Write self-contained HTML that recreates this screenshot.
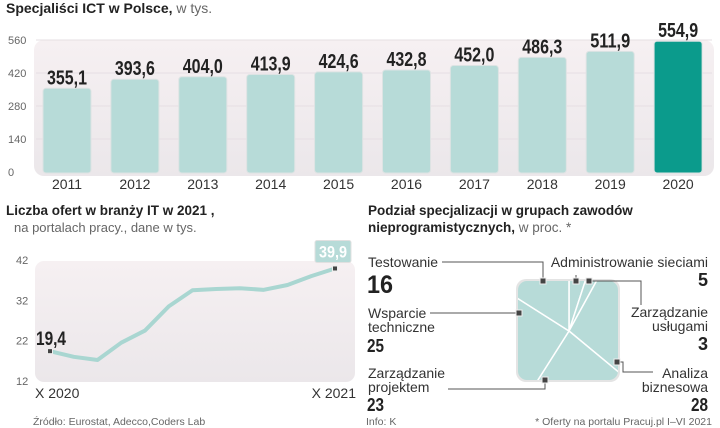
<!DOCTYPE html>
<html><head><meta charset="utf-8"><style>
body{margin:0;background:#fff;width:720px;height:428px;overflow:hidden}
svg{display:block;font-family:"Liberation Sans",sans-serif}
</style></head><body>
<svg id="s" width="720" height="428" viewBox="0 0 720 428">
<defs>
<linearGradient id="pg" x1="0" y1="0" x2="0" y2="1"><stop offset="0" stop-color="#f6f0f2"/><stop offset="1" stop-color="#ebe7ea"/></linearGradient>
<clipPath id="sq"><rect x="518" y="281" width="100" height="99" rx="9"/></clipPath>
</defs>
<text x="6" y="13" font-size="14" fill="#222"><tspan font-weight="bold">Specjaliści ICT w Polsce,</tspan><tspan fill="#666"> w tys.</tspan></text>
<rect x="34" y="40" width="680" height="136" rx="10" fill="url(#pg)"/>
<g id="bars"></g>
<text x="6" y="215" font-size="13.5" font-weight="bold" fill="#222">Liczba ofert w branży IT w 2021 ,</text>
<text x="14" y="232" font-size="13" fill="#666">na portalach pracy., dane w tys.</text>
<rect x="35" y="261" width="320" height="121" rx="9" fill="url(#pg)"/>
<g id="line"></g>
<text x="33" y="425" font-size="10.5" fill="#666">Źródło: Eurostat, Adecco,Coders Lab</text>
<text x="368" y="215" font-size="13.5" font-weight="bold" fill="#222">Podział specjalizacji  w grupach zawodów</text>
<text x="368" y="232" font-size="13.5" fill="#222"><tspan font-weight="bold">nieprogramistycznych,</tspan><tspan fill="#666"> w proc. *</tspan></text>
<rect x="516" y="279" width="104" height="103" rx="10" fill="#e4e4e4"/>
<g id="pie" clip-path="url(#sq)"></g>
<g id="leaders" stroke="#555" stroke-width="1" fill="none">
<polyline points="442,262 543,262 543,281"/><polyline points="576,275 576,281"/><polyline points="589,281 641,281 641,305"/>
<polyline points="430,313 519,313"/><polyline points="617,362 623,362 623,372 653,372"/><polyline points="545,380 545,389 448,389"/>
</g>
<g fill="#444" stroke="#eee" stroke-width="1">
<rect x="540" y="278" width="6" height="6"/><rect x="573" y="278" width="6" height="6"/><rect x="586" y="278" width="6" height="6"/>
<rect x="516" y="310" width="6" height="6"/><rect x="614" y="359" width="6" height="6"/><rect x="542" y="377" width="6" height="6"/>
</g>
<g font-size="14" fill="#333">
<text x="368" y="267">Testowanie</text>
<text x="367" y="293" font-size="25" font-weight="bold" fill="#222" textLength="26" lengthAdjust="spacingAndGlyphs">16</text>
<text x="368" y="318">Wsparcie</text><text x="368" y="332">techniczne</text>
<text x="367" y="352" font-size="18" font-weight="bold" fill="#222" textLength="17" lengthAdjust="spacingAndGlyphs">25</text>
<text x="368" y="378">Zarządzanie</text><text x="368" y="392">projektem</text>
<text x="367" y="411" font-size="18" font-weight="bold" fill="#222" textLength="17" lengthAdjust="spacingAndGlyphs">23</text>
<g text-anchor="end">
<text x="708" y="267">Administrowanie sieciami</text>
<text x="708" y="286" font-size="18" font-weight="bold" fill="#222">5</text>
<text x="708" y="317">Zarządzanie</text><text x="708" y="331">usługami</text>
<text x="708" y="350" font-size="18" font-weight="bold" fill="#222">3</text>
<text x="708" y="378">Analiza</text><text x="708" y="392">biznesowa</text>
<text x="708" y="411" font-size="18" font-weight="bold" fill="#222" textLength="17" lengthAdjust="spacingAndGlyphs">28</text>
</g></g>
<text x="366" y="425" font-size="10.5" fill="#666">Info: K</text>
<text x="712" y="425" font-size="10.5" fill="#666" text-anchor="end">* Oferty na portalu Pracuj.pl I–VI 2021</text>
</svg>
<script>
const years=["2011","2012","2013","2014","2015","2016","2017","2018","2019","2020"];
const specialists=[355.1,393.6,404.0,413.9,424.6,432.8,452.0,486.3,511.9,554.9];
const barTicks=[0,140,280,420,560];
const offers=[19.4,18.0,17.2,21.5,24.5,30.5,34.5,34.8,35.0,34.6,35.8,38.0,39.9];
const lineTicks=[12,22,32,42];
const pieLabels=["Administrowanie sieciami","Zarządzanie usługami","Analiza biznesowa","Zarządzanie projektem","Wsparcie techniczne","Testowanie"];
const pieValues=[5,3,28,23,25,16];
const NS="http://www.w3.org/2000/svg";
function mk(p,t,a,txt){const e=document.createElementNS(NS,t);for(const k in a)e.setAttribute(k,a[k]);if(txt!=null)e.textContent=txt;p.appendChild(e);return e;}
const by=v=>172-v*132/560, bx=i=>67+i*67.9;
const bg=document.getElementById('bars');
barTicks.forEach(t=>{const y=by(t);
 if(t>0){const l=mk(bg,'line',{x1:36,x2:712,y1:y,y2:y,stroke:'#e6dfe3'});}
 const e=mk(bg,'text',{x:8,y:y+4,'font-size':11,fill:'#666'},t);});
specialists.forEach((v,i)=>{const x=bx(i),y=by(v),last=i==specialists.length-1;
 const r=mk(bg,'rect',{x:x-24,y:y,width:48,height:by(0)-y+1,rx:3,fill:last?'#0b9b8c':'#b7dbd8',stroke:'#dde3e3','stroke-width':1});
 
 const t=mk(bg,'text',{x:x-20,y:y-4,'font-size':20,'font-weight':'bold',fill:'#222',textLength:40,lengthAdjust:'spacingAndGlyphs'},v.toFixed(1).replace('.',','));
 
 const yl=mk(bg,'text',{x:x,y:189,'text-anchor':'middle','font-size':14,fill:'#333'},years[i]);
 });
const ly=v=>381-(v-12)*121/30, lx=i=>50+i*(335-50)/(offers.length-1);
const lg=document.getElementById('line');
lineTicks.forEach(t=>{const e=mk(lg,'text',{x:16,y:ly(t)+4,'font-size':11,fill:'#666'},t);});
const pl=mk(lg,'polyline',{points:offers.map((v,i)=>lx(i)+','+ly(v)).join(' '),fill:'none',stroke:'#a9d6d1','stroke-width':4,'stroke-linejoin':'round','stroke-linecap':'round'});

[0,offers.length-1].forEach(i=>{const m=mk(lg,'rect',{x:lx(i)-2.5,y:ly(offers[i])-2.5,width:5,height:5,fill:'#444',stroke:'#eee'});});
const fl=mk(lg,'text',{x:36,y:ly(offers[0])-6,'font-size':19,'font-weight':'bold',fill:'#222',textLength:30,lengthAdjust:'spacingAndGlyphs'},offers[0].toFixed(1).replace('.',','));

const li=offers.length-1;
const lb=mk(lg,'rect',{x:lx(li)-20,y:ly(offers[li])-28,width:36,height:22,rx:2,fill:'#b7dbd8',stroke:'#e0e0e0'});

const lt=mk(lg,'text',{x:lx(li)-16,y:ly(offers[li])-11,'font-size':17,'font-weight':'bold',fill:'#fff',textLength:28,lengthAdjust:'spacingAndGlyphs'},offers[li].toFixed(1).replace('.',','));

const x1=mk(lg,'text',{x:35,y:398,'font-size':14,fill:'#333'},'X 2020');
const x2=mk(lg,'text',{x:356,y:398,'font-size':14,fill:'#333','text-anchor':'end'},'X 2021');
const pg=document.getElementById('pie');const cx=569,cy=331,R=90;
const tot=pieValues.reduce((a,b)=>a+b,0);let a0=0;
pieValues.forEach((v,i)=>{const a1=a0+v/tot*2*Math.PI;
 const p=(a)=>[cx+R*Math.sin(a),cy-R*Math.cos(a)];const [sx,sy]=p(a0),[ex,ey]=p(a1);
 const s=mk(pg,'path',{d:`M${cx},${cy}L${sx},${sy}A${R},${R} 0 ${a1-a0>Math.PI?1:0} 1 ${ex},${ey}Z`,fill:'#b7dbd8',stroke:'#fff','stroke-width':1.5});
 a0=a1;});
</script>
</body></html>
